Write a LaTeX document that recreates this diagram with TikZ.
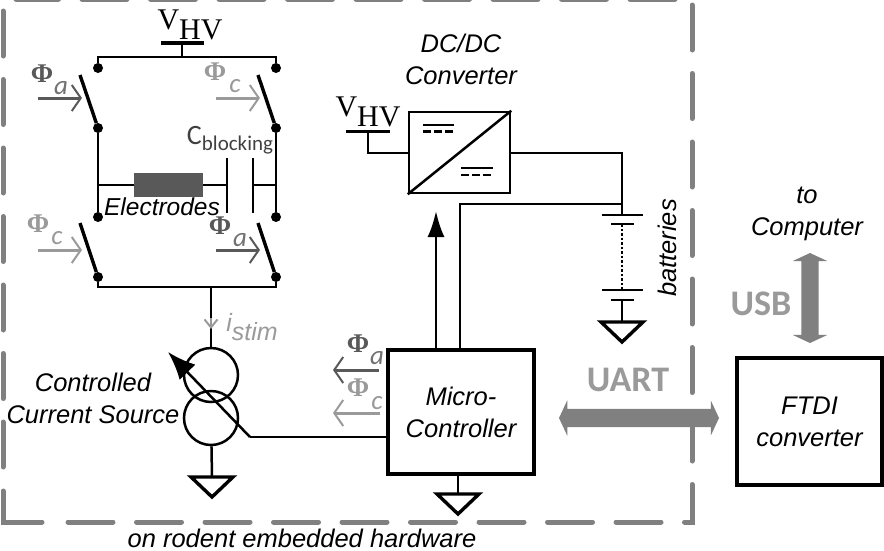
\documentclass[tikz,border=0pt]{standalone}
\usepackage{fontspec}
\setmainfont{Liberation Sans}
\newfontfamily\vfont{Liberation Serif}
\newfontfamily\labelfont{Carlito}
\usetikzlibrary{arrows.meta, shapes.arrows, positioning}
\definecolor{phiA}{HTML}{595959}
\definecolor{phiC}{HTML}{9A9A9A}
\definecolor{frameGray}{HTML}{808080}
\tikzstyle{wire}=[line width=2.5pt]
\tikzstyle{heavy}=[line width=3.4pt]
\tikzstyle{terminal}=[circle,fill=black,minimum size=10pt,inner sep=0pt]
\tikzstyle{blockBox}=[draw,heavy,inner sep=0pt,align=center,font=\fontsize{25.5}{32}\selectfont\itshape]
\tikzstyle{caption}=[inner sep=0pt,align=center,font=\fontsize{25.5}{32}\selectfont\itshape]
\tikzstyle{voltage}=[inner sep=0pt,font=\fontsize{30}{30}\selectfont\vfont]
\tikzstyle{frameLine}=[line width=5pt,frameGray,line cap=round,dash pattern=on 45pt off 23.5pt]
\tikzstyle{phiSym}=[inner sep=0pt,font=\fontsize{27}{27}\selectfont\vfont\bfseries]
\tikzstyle{phiSub}=[inner sep=0pt,font=\fontsize{27}{27}\selectfont\labelfont\itshape]
\tikzstyle{phiArrow}=[line width=3pt,-{Straight Barb[length=9pt,width=26pt,line width=2pt]}]
\tikzstyle{bigLabel}=[inner sep=0pt,text=phiC,font=\fontsize{36}{36}\selectfont\labelfont\bfseries]
\tikzstyle{busArrow}=[double arrow,fill=frameGray,inner sep=0pt,double arrow head extend=8.5pt,double arrow tip angle=130]
\tikzset{ground/.pic={\draw[heavy] (-21,0) -- (21,0) -- (0,20) -- cycle;}}

\begin{document}
\begin{tikzpicture}[x=1pt,y=-1pt]
    \useasboundingbox (0,0) rectangle (884,550);

    % dashed outline
    \draw[frameLine] (692,5) -- (692,522) -- (67,522);
    \draw[line width=5pt,frameGray,line cap=round] (42,522) -- (3,522) -- (3,491);
    \draw[frameLine] (3,467) -- (3,8);
    \draw[frameLine] (675,-1) -- (16,-1);

    % bridge
    \node (t1)[terminal] at (98,68) {};
    \node (t2)[terminal] at (98,128) {};
    \node (t3)[terminal] at (276,68) {};
    \node (t4)[terminal] at (276,128) {};
    \node (t5)[terminal] at (98,217) {};
    \node (t6)[terminal] at (98,277) {};
    \node (t7)[terminal] at (276,217) {};
    \node (t8)[terminal] at (276,277) {};
    \coordinate (topL) at (98,57);
    \coordinate (topM) at (182,57);
    \coordinate (topR) at (276,57);
    \coordinate (botL) at (98,287);
    \coordinate (botM) at (211,287);
    \coordinate (botR) at (276,287);
    \draw[wire] (t1) -- (topL) -- (topR) -- (t3);
    \draw[wire] (t6) -- (botL) -- (botR) -- (t8);
    \draw[wire] (t2) -- (t5);
    \draw[wire] (t4) -- (t7);

    \coordinate (blade1) at (80,75);
    \coordinate (blade2) at (258,75);
    \coordinate (blade3) at (80,223);
    \coordinate (blade4) at (258,223);
    \draw[heavy] (blade1) -- (t2);
    \draw[heavy] (blade2) -- (t4);
    \draw[heavy] (blade3) -- (t6);
    \draw[heavy] (blade4) -- (t8);

    \coordinate (hvBar1) at (182,43);
    \draw[wire] (hvBar1) -- (topM);
    \draw[heavy] (161,43) -- (204,43);
    \node (hv1)[voltage] at (190,25) {V\raisebox{-10pt}{HV}};

    % load
    \node (elec)[fill=phiA,minimum width=69pt,minimum height=24pt,inner sep=0pt] at (168.5,185) {};
    \node[caption,font=\fontsize{24.5}{24}\selectfont\itshape] (elecText) at (162,207) {Electrodes};
    \coordinate (capL) at (227,185);
    \coordinate (capR) at (253,185);
    \draw[wire] (98,185) -- (elec);
    \draw[wire] (elec) -- (capL);
    \draw[wire] (capR) -- (276,185);
    \draw[wire] (227,158) -- (227,213);
    \draw[wire] (253,158) -- (253,213);
    \node[inner sep=0pt,text=black!75,font=\fontsize{21}{21}\selectfont\labelfont] (cblock) at (230,140) {{\fontsize{28}{28}\selectfont C}\raisebox{-6pt}{blocking}};

    % phase labels of the switches
    \node[phiSym,text=phiA] (p1) at (42,74) {Φ};
    \node[phiSub,text=phiA!85] (p1s) at (61,88) {a};
    \coordinate (p1a) at (38,98);
    \coordinate (p1b) at (82,98);
    \draw[phiArrow,phiA] (p1a) -- (p1b);

    \node[phiSym,text=phiC] (p2) at (215,72) {Φ};
    \node[phiSub,text=phiC] (p2s) at (235,86) {c};
    \coordinate (p2a) at (216,98);
    \coordinate (p2b) at (260,98);
    \draw[phiArrow,phiC] (p2a) -- (p2b);

    \node[phiSym,text=phiC] (p3) at (38,224) {Φ};
    \node[phiSub,text=phiC] (p3s) at (57,238) {c};
    \coordinate (p3a) at (38,250);
    \coordinate (p3b) at (82,250);
    \draw[phiArrow,phiC] (p3a) -- (p3b);

    \node[phiSym,text=phiA] (p4) at (220,226) {Φ};
    \node[phiSub,text=phiA!85] (p4s) at (240,240) {a};
    \coordinate (p4a) at (216,250);
    \coordinate (p4b) at (260,250);
    \draw[phiArrow,phiA] (p4a) -- (p4b);

    % current source
    \node (src1)[draw,wire,circle,minimum size=54pt,inner sep=0pt] at (211,375) {};
    \node (src2)[draw,wire,circle,minimum size=54pt,inner sep=0pt] at (211,418) {};
    \draw[wire] (botM) -- (src1);
    \coordinate (gndA) at (212,477);
    \draw[wire] (src2) -- (gndA);
    \pic at (gndA) {ground};
    \coordinate (istimA) at (211,318);
    \draw[line width=2pt,phiC,-{Straight Barb[length=8pt,width=13pt,line width=2pt]}] (istimA) -- (211,329);
    \node[inner sep=0pt,text=phiC,font=\fontsize{25}{25}\selectfont\itshape] (istim) at (252,327) {i\raisebox{-9pt}{stim}};
    \node[caption] (srcText) at (93,398) {Controlled\\Current Source};

    % micro controller
    \node (mcu)[blockBox,minimum width=146pt,minimum height=124pt] at (461,412) {Micro-\\Controller};
    \node (ftdi)[blockBox,minimum width=145pt,minimum height=127pt] at (809.5,421.5) {FTDI\\converter};
    \coordinate (ctrlBend) at (250,437);
    \coordinate (ctrlTip) at (168,352);
    \draw[wire] (mcu.west |- ctrlBend) -- (ctrlBend);
    \draw[wire,-{Latex[length=28pt,width=22pt]}] (ctrlBend) -- (ctrlTip);
    \coordinate (gndB) at (458,494);
    \draw[wire] (mcu.south -| gndB) -- (gndB);
    \pic at (gndB) {ground};

    \node[phiSym,text=phiA] (p5) at (358,344) {Φ};
    \node[phiSub,text=phiA!85] (p5s) at (377,358) {a};
    \coordinate (p5a) at (379,370);
    \coordinate (p5b) at (333,370);
    \draw[phiArrow,phiA] (p5a) -- (p5b);
    \node[phiSym,text=phiC] (p6) at (358,388) {Φ};
    \node[phiSub,text=phiC] (p6s) at (377,403) {c};
    \coordinate (p6a) at (380,413);
    \coordinate (p6b) at (333,413);
    \draw[phiArrow,phiC] (p6a) -- (p6b);

    % converter
    \node (conv)[draw,wire,minimum width=101pt,minimum height=81pt,inner sep=0pt] at (459.5,152.5) {};
    \draw[wire] (conv.south west) -- (conv.north east);
    \draw[wire] (423,125) -- (454,125);
    \draw[wire,dash pattern=on 8pt off 3pt] (423,131.5) -- (454,131.5);
    \draw[wire] (461,168) -- (493,168);
    \draw[wire,dash pattern=on 8pt off 3pt] (461,175) -- (493,175);
    \node[caption] (convText) at (461,59) {DC/DC\\Converter};

    \coordinate (hvBar2) at (368,131.5);
    \coordinate (hvBend) at (368,153);
    \draw[wire] (hvBar2) -- (hvBend) -- (conv.west |- hvBend);
    \draw[heavy] (346,131.5) -- (390,131.5);
    \node (hv2)[voltage] at (368,112) {V\raisebox{-10pt}{HV}};

    % batteries
    \coordinate (batIn) at (622,153);
    \coordinate (bat1) at (622,215);
    \coordinate (bat2) at (622,224);
    \coordinate (bat3) at (622,290);
    \coordinate (bat4) at (622,300);
    \coordinate (gndC) at (622,322);
    \coordinate (mcuJoin) at (622,204);
    \coordinate (mcuBend) at (460,204);
    \draw[wire] (conv.east |- batIn) -- (batIn) -- (bat1);
    \draw[wire] (602,215) -- (643,215);
    \draw[wire] (611,224) -- (634,224);
    \draw[wire,dotted] (bat2) -- (bat3);
    \draw[wire] (602,290) -- (643,290);
    \draw[wire] (611,300) -- (634,300);
    \draw[wire] (bat4) -- (gndC);
    \pic at (gndC) {ground};
    \node[caption,rotate=90] (batText) at (667,248) {batteries};

    \draw[wire] (mcu.north -| mcuBend) -- (mcuBend) -- (mcuJoin);
    \coordinate (ctrlUp) at (436,211);
    \draw[wire,-{Latex[length=26pt,width=17pt]}] (mcu.north -| ctrlUp) -- (ctrlUp);

    % links
    \node (uart)[busArrow,minimum height=160pt] at (639,418) {\rule{0pt}{18pt}};
    \node (usb)[busArrow,rotate=90,minimum height=90pt] at (810,298) {\rule{0pt}{17pt}};
    \node[bigLabel] (uartText) at (628,380) {UART};
    \node[bigLabel] (usbText) at (761,304) {USB};
    \node[caption] (pcText) at (807,214) {to\\Computer};
    \node[caption] (boardText) at (302,538) {on rodent embedded hardware};
\end{tikzpicture}
\end{document}
